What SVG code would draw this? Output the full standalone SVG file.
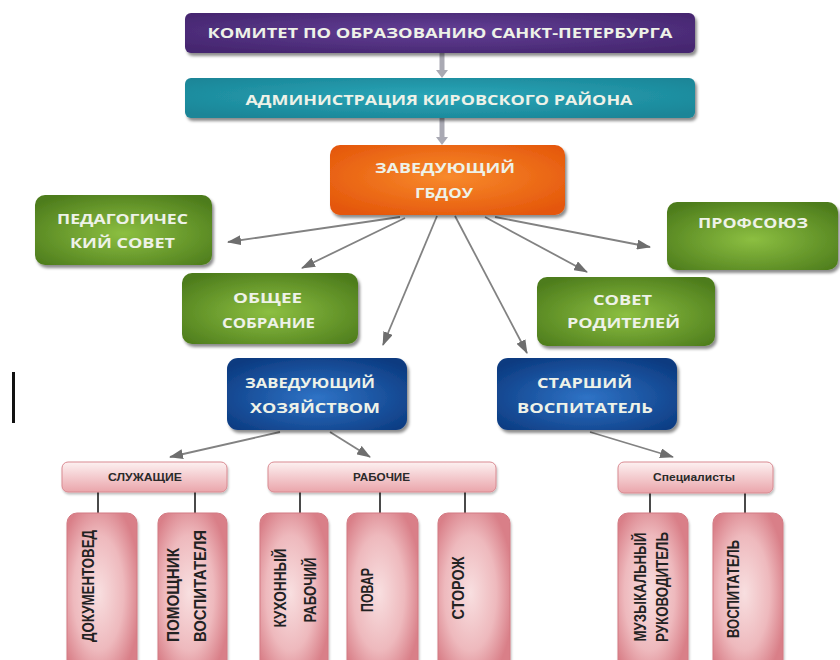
<svg xmlns="http://www.w3.org/2000/svg" width="840" height="660" viewBox="0 0 840 660">
<defs>
  <radialGradient id="gPurple" cx="50%" cy="45%" r="65%"><stop offset="0" stop-color="#633f96"/><stop offset="1" stop-color="#45266f"/></radialGradient>
  <radialGradient id="gTeal" cx="50%" cy="45%" r="65%"><stop offset="0" stop-color="#2aa6b8"/><stop offset="1" stop-color="#1a8597"/></radialGradient>
  <radialGradient id="gOrange" cx="50%" cy="45%" r="65%"><stop offset="0" stop-color="#f88a2c"/><stop offset="1" stop-color="#e4560a"/></radialGradient>
  <radialGradient id="gGreen" cx="50%" cy="55%" r="65%"><stop offset="0" stop-color="#8cbf41"/><stop offset="1" stop-color="#4d7c1c"/></radialGradient>
  <radialGradient id="gBlue" cx="50%" cy="55%" r="65%"><stop offset="0" stop-color="#2f73c6"/><stop offset="1" stop-color="#0b3a80"/></radialGradient>
  <radialGradient id="gPink" cx="45%" cy="50%" r="60%"><stop offset="0" stop-color="#f8dfe0"/><stop offset="0.6" stop-color="#eeb9bd"/><stop offset="1" stop-color="#d97f88"/></radialGradient>
  <linearGradient id="gLabel" x1="0" y1="0" x2="0" y2="1"><stop offset="0" stop-color="#fdf1f1"/><stop offset="1" stop-color="#eaa5ab"/></linearGradient>
  <filter id="sh" x="-10%" y="-20%" width="120%" height="150%"><feDropShadow dx="2" dy="3" stdDeviation="1.5" flood-color="#000" flood-opacity="0.45"/></filter>
  <filter id="shs" x="-10%" y="-20%" width="120%" height="150%"><feDropShadow dx="1" dy="2" stdDeviation="1" flood-color="#000" flood-opacity="0.25"/></filter>
  <marker id="ah" markerUnits="userSpaceOnUse" markerWidth="14" markerHeight="10" refX="13" refY="5" orient="auto"><path d="M0,0 L14,5 L0,10 Z" fill="#6e6e6e"/></marker>
  <style>
    .big { font-family: "Open Sans", "Liberation Sans", sans-serif; font-weight: 700; font-size: 14px; fill: #eef2e8; text-anchor: middle; }
    .lbl { font-family: "Liberation Sans", Arial, sans-serif; font-weight: 700; font-size: 10px; fill: #2a2a2a; text-anchor: middle; }
    .vt { font-family: "Liberation Sans", Arial, sans-serif; font-weight: 700; font-size: 17px; fill: #222; text-anchor: middle; }
    .arr { stroke: #828282; stroke-width: 1.8; fill: none; marker-end: url(#ah); }
    .tie { stroke: #4a4a4a; stroke-width: 2; }
    .child { fill: url(#gPink); stroke: #d37a83; stroke-width: 1; }
    .grp { fill: url(#gLabel); stroke: #d98a91; stroke-width: 1; }
  </style>
</defs>
<rect width="840" height="660" fill="#ffffff"/>

<g id="connectors">
  <line x1="442" y1="53" x2="442" y2="71" stroke="#a9a9b3" stroke-width="5"/>
  <polygon points="436,70 448,70 442,78" fill="#a9a9b3"/>
  <line x1="442" y1="118" x2="442" y2="138" stroke="#a9a9b3" stroke-width="5"/>
  <polygon points="436,137 448,137 442,145" fill="#a9a9b3"/>
  <line class="arr" x1="400" y1="217" x2="228" y2="242"/>
  <line class="arr" x1="405" y1="218" x2="302" y2="268"/>
  <line class="arr" x1="437" y1="216" x2="383" y2="345"/>
  <line class="arr" x1="455" y1="216" x2="527" y2="353"/>
  <line class="arr" x1="485" y1="217" x2="587" y2="272"/>
  <line class="arr" x1="495" y1="217" x2="650" y2="247"/>
  <line class="arr" x1="280" y1="432" x2="170" y2="457"/>
  <line class="arr" x1="330" y1="432" x2="370" y2="457"/>
  <line class="arr" x1="590" y1="432" x2="673" y2="457"/>
  <line class="tie" x1="98" y1="492" x2="98" y2="514"/>
  <line class="tie" x1="195" y1="492" x2="195" y2="514"/>
  <line class="tie" x1="300" y1="492" x2="300" y2="514"/>
  <line class="tie" x1="380" y1="492" x2="380" y2="514"/>
  <line class="tie" x1="465" y1="492" x2="465" y2="514"/>
  <line class="tie" x1="650" y1="493" x2="650" y2="514"/>
  <line class="tie" x1="745" y1="493" x2="745" y2="514"/>
</g>

<rect x="12" y="372" width="3" height="51" fill="#111"/>

<g id="komitet">
  <rect x="185" y="13" width="510" height="40" rx="6" fill="url(#gPurple)" filter="url(#sh)"/>
  <text class="big" x="440" y="38" font-size="15" textLength="465" lengthAdjust="spacingAndGlyphs">КОМИТЕТ ПО ОБРАЗОВАНИЮ САНКТ-ПЕТЕРБУРГА</text>
</g>
<g id="administraciya">
  <rect x="185" y="78" width="510" height="40" rx="6" fill="url(#gTeal)" filter="url(#sh)"/>
  <text class="big" x="439" y="105" font-size="15" textLength="387" lengthAdjust="spacingAndGlyphs">АДМИНИСТРАЦИЯ КИРОВСКОГО РАЙОНА</text>
</g>
<g id="zaveduyushchiy">
  <rect x="330" y="145" width="235" height="70" rx="10" fill="url(#gOrange)" filter="url(#sh)"/>
  <text class="big" x="445" y="173" textLength="140" lengthAdjust="spacingAndGlyphs">ЗАВЕДУЮЩИЙ</text>
  <text class="big" x="444" y="198" textLength="58" lengthAdjust="spacingAndGlyphs">ГБДОУ</text>
</g>
<g id="pedsovet">
  <rect x="35" y="195" width="177" height="70" rx="10" fill="url(#gGreen)" filter="url(#sh)"/>
  <text class="big" x="122.5" y="224" textLength="131" lengthAdjust="spacingAndGlyphs">ПЕДАГОГИЧЕС</text>
  <text class="big" x="122.5" y="248" textLength="105" lengthAdjust="spacingAndGlyphs">КИЙ СОВЕТ</text>
</g>
<g id="obshchee">
  <rect x="182" y="273" width="176" height="71" rx="10" fill="url(#gGreen)" filter="url(#sh)"/>
  <text class="big" x="267.5" y="303" textLength="69" lengthAdjust="spacingAndGlyphs">ОБЩЕЕ</text>
  <text class="big" x="268.5" y="328" textLength="93" lengthAdjust="spacingAndGlyphs">СОБРАНИЕ</text>
</g>
<g id="profsoyuz">
  <rect x="667" y="202" width="171" height="68" rx="10" fill="url(#gGreen)" filter="url(#sh)"/>
  <text class="big" x="753" y="228" textLength="110" lengthAdjust="spacingAndGlyphs">ПРОФСОЮЗ</text>
</g>
<g id="sovet-roditeley">
  <rect x="537" y="277" width="178" height="69" rx="10" fill="url(#gGreen)" filter="url(#sh)"/>
  <text class="big" x="622.5" y="305" textLength="59" lengthAdjust="spacingAndGlyphs">СОВЕТ</text>
  <text class="big" x="623.5" y="328" textLength="113" lengthAdjust="spacingAndGlyphs">РОДИТЕЛЕЙ</text>
</g>
<g id="zav-hoz">
  <rect x="227" y="358" width="180" height="72" rx="11" fill="url(#gBlue)" filter="url(#sh)"/>
  <text class="big" x="310" y="388" textLength="130" lengthAdjust="spacingAndGlyphs">ЗАВЕДУЮЩИЙ</text>
  <text class="big" x="315" y="413" textLength="130" lengthAdjust="spacingAndGlyphs">ХОЗЯЙСТВОМ</text>
</g>
<g id="starshiy">
  <rect x="497" y="358" width="180" height="72" rx="11" fill="url(#gBlue)" filter="url(#sh)"/>
  <text class="big" x="584.5" y="388" textLength="95" lengthAdjust="spacingAndGlyphs">СТАРШИЙ</text>
  <text class="big" x="585" y="413" textLength="136" lengthAdjust="spacingAndGlyphs">ВОСПИТАТЕЛЬ</text>
</g>

<g id="sluzhashchie">
  <rect class="grp" x="62" y="462" width="165" height="30" rx="6" filter="url(#shs)"/>
  <text class="lbl" x="145" y="481" textLength="74" lengthAdjust="spacingAndGlyphs">СЛУЖАЩИЕ</text>
</g>
<g id="rabochie">
  <rect class="grp" x="268" y="462" width="228" height="30" rx="6" filter="url(#shs)"/>
  <text class="lbl" x="381.5" y="481" textLength="57" lengthAdjust="spacingAndGlyphs">РАБОЧИЕ</text>
</g>
<g id="specialisty">
  <rect class="grp" x="618" y="462" width="155" height="31" rx="6" filter="url(#shs)"/>
  <text class="lbl" x="694" y="481" textLength="82" lengthAdjust="spacingAndGlyphs">Специалисты</text>
</g>

<g id="dokumentoved">
  <rect class="child" x="67" y="513" width="70" height="160" rx="10" filter="url(#shs)"/>
  <text class="vt" transform="translate(94,586) rotate(-90)" textLength="112" lengthAdjust="spacingAndGlyphs">ДОКУМЕНТОВЕД</text>
</g>
<g id="pomoshchnik">
  <rect class="child" x="158" y="513" width="69" height="160" rx="10" filter="url(#shs)"/>
  <text class="vt" transform="translate(179,595) rotate(-90)" textLength="94" lengthAdjust="spacingAndGlyphs">ПОМОЩНИК</text>
  <text class="vt" transform="translate(206,586) rotate(-90)" textLength="112" lengthAdjust="spacingAndGlyphs">ВОСПИТАТЕЛЯ</text>
</g>
<g id="kuhonnyy">
  <rect class="child" x="260" y="513" width="68" height="160" rx="10" filter="url(#shs)"/>
  <text class="vt" transform="translate(286,588) rotate(-90)" textLength="79" lengthAdjust="spacingAndGlyphs">КУХОННЫЙ</text>
  <text class="vt" transform="translate(316,590) rotate(-90)" textLength="65" lengthAdjust="spacingAndGlyphs">РАБОЧИЙ</text>
</g>
<g id="povar">
  <rect class="child" x="347" y="513" width="71" height="160" rx="10" filter="url(#shs)"/>
  <text class="vt" transform="translate(373,590) rotate(-90)" textLength="44" lengthAdjust="spacingAndGlyphs">ПОВАР</text>
</g>
<g id="storozh">
  <rect class="child" x="438" y="513" width="72" height="160" rx="10" filter="url(#shs)"/>
  <text class="vt" transform="translate(464,588) rotate(-90)" textLength="63" lengthAdjust="spacingAndGlyphs">СТОРОЖ</text>
</g>
<g id="muz-rukovoditel">
  <rect class="child" x="618" y="513" width="70" height="160" rx="10" filter="url(#shs)"/>
  <text class="vt" transform="translate(646,587) rotate(-90)" textLength="109" lengthAdjust="spacingAndGlyphs">МУЗЫКАЛЬНЫЙ</text>
  <text class="vt" transform="translate(668,587) rotate(-90)" textLength="110" lengthAdjust="spacingAndGlyphs">РУКОВОДИТЕЛЬ</text>
</g>
<g id="vospitatel">
  <rect class="child" x="713" y="513" width="70" height="160" rx="10" filter="url(#shs)"/>
  <text class="vt" transform="translate(739,589) rotate(-90)" textLength="98" lengthAdjust="spacingAndGlyphs">ВОСПИТАТЕЛЬ</text>
</g>
</svg>
